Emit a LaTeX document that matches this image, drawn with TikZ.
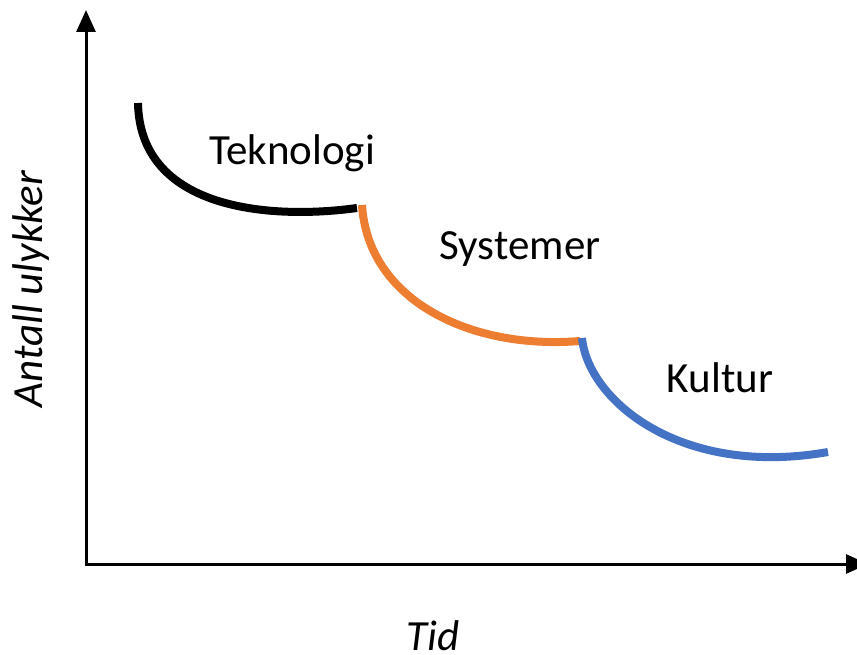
\documentclass[tikz,border=0pt]{standalone}
\usepackage{fontspec}
\setmainfont{Carlito}
\usetikzlibrary{arrows.meta}
\definecolor{phaseorange}{HTML}{ED7D31}
\definecolor{phaseblue}{HTML}{4472C4}
\begin{document}
\begin{tikzpicture}[x=1pt,y=-1pt,
  axis/.style={line width=3pt,{Triangle[length=22pt,width=19pt]}-{Triangle[length=22pt,width=19pt]}},
  phase/.style={line width=8pt},
  lbl/.style={font=\fontsize{43}{50}\selectfont,anchor=base,inner sep=0pt},
  axlbl/.style={font=\fontsize{43}{50}\selectfont\itshape,anchor=base,inner sep=0pt}]
  \useasboundingbox (0,0) rectangle (857,655);
  \clip (0,0) rectangle (857,655);

  % axes
  \coordinate (ytop) at (86,10);
  \coordinate (xend) at (868,564);
  \draw[axis] (ytop) |- (xend);

  % the three phases
  \coordinate (p0) at (138,103);
  \coordinate (p1) at (357,208);
  \coordinate (p1b) at (362,205);
  \coordinate (p2) at (580,341);
  \coordinate (p2b) at (582,338);
  \coordinate (p3) at (828,452);
  \draw[phase,black] (p0) .. controls (140,210) and (270,220) .. (p1);
  \draw[phase,phaseorange] (p1b) .. controls (368,300) and (470,350) .. (p2);
  \draw[phase,phaseblue] (p2b) .. controls (588,400) and (680,478) .. (p3);

  % labels
  \node[lbl] (tek) at (292,165) {Teknologi};
  \node[lbl] (sys) at (520,260) {Systemer};
  \node[lbl] (kul) at (720,392) {Kultur};
  \node[axlbl] (tid) at (433,650) {Tid};
  \node[axlbl,rotate=90] (ant) at (42,289) {Antall ulykker};
\end{tikzpicture}
\end{document}
